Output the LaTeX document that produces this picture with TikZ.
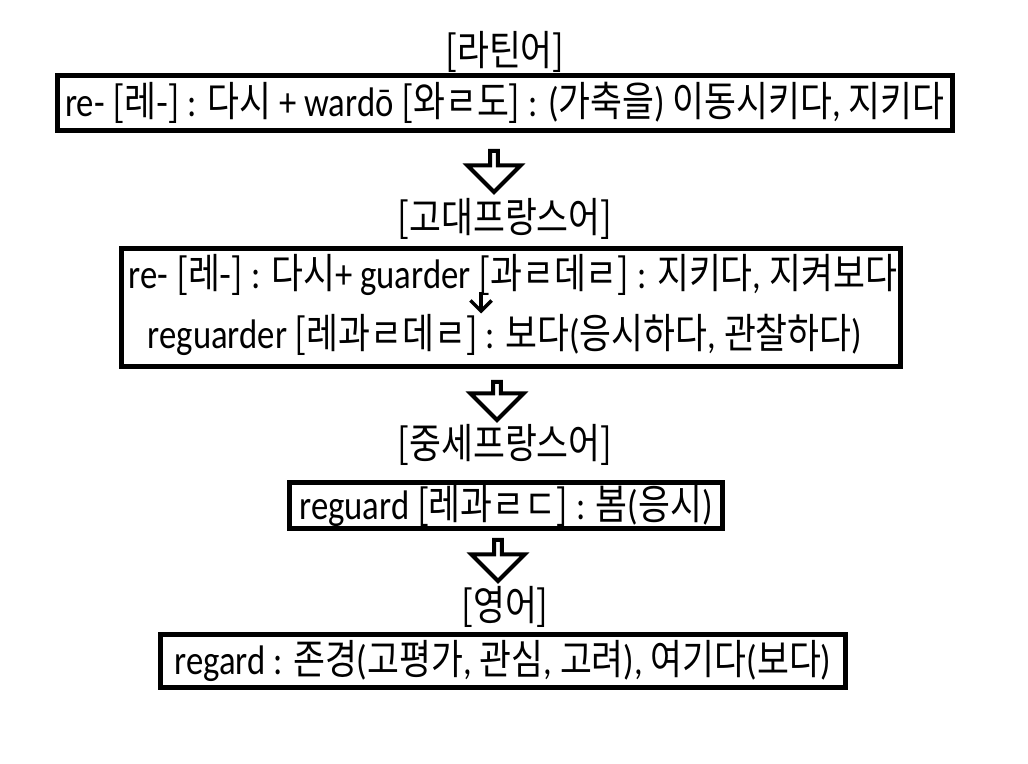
\documentclass[tikz,border=0pt]{standalone}
\usepackage{fontspec}
\setmainfont[FakeStretch=0.84]{Carlito}
\newfontfamily\krfont[FakeStretch=0.84]{Noto Sans CJK KR}
\usetikzlibrary{shapes.arrows,arrows.meta}
\newcommand{\ko}[1]{{\krfont #1}}

\begin{document}
\begin{tikzpicture}[
        every node/.style={font=\fontsize{23.5}{28}\selectfont},
        wordbox/.style={draw, line width=2.8pt, inner sep=0pt},
        langtitle/.style={inner sep=0pt},
        downarrow/.style={single arrow, draw, line width=2.3pt, inner sep=0pt,
            shape border rotate=270, minimum height=0.82cm, minimum width=1.06cm,
            single arrow head extend=0.24cm}
    ]
        \useasboundingbox (0,0) rectangle (20.56,-15.28);

        % latin
        \node[langtitle] (tlatin) at (10.1,-1.04) {\ko{[라틴어]}};
        \node[wordbox, minimum width=17.9cm, minimum height=1.1cm] (latin) at (10.1,-2.06)
            {re- \ko{[레-]} : \ko{다시} + wardō \ko{[와ㄹ도]} : (\ko{가축을}) \ko{이동시키다}, \ko{지키다}};
        \node[downarrow] (a1) at (9.88,-3.39) {};

        % old french
        \node[langtitle] (toldfr) at (10.1,-4.38) {\ko{[고대프랑스어]}};
        \node[wordbox, minimum width=15.58cm, minimum height=2.36cm] (oldfr) at (10.22,-6.15) {};
        \node[inner sep=0pt] (oldfra) at (10.26,-5.5)
            {re- \ko{[레-]} : \ko{다시}+ guarder \ko{[과ㄹ데ㄹ]} : \ko{지키다}, \ko{지켜보다}};
        \node[inner sep=0pt] (oldfrb) at (10.1,-6.7)
            {reguarder \ko{[레과ㄹ데ㄹ]} : \ko{보다}(\ko{응시하다}, \ko{관찰하다})};
        \coordinate (gtop) at (9.62,-5.84);
        \coordinate (gbot) at (9.62,-6.27);
        \draw[line width=2pt, -{Straight Barb[length=6pt,width=12pt]}] (gtop) -- (gbot);
        \node[downarrow, minimum height=0.76cm] (a2) at (9.94,-7.98) {};

        % middle french
        \node[langtitle] (tmidfr) at (10.1,-8.9) {\ko{[중세프랑스어]}};
        \node[wordbox, minimum width=8.66cm, minimum height=0.92cm] (midfr) at (10.12,-10.11)
            {reguard \ko{[레과ㄹㄷ]} : \ko{봄}(\ko{응시})};
        \node[downarrow] (a3) at (9.96,-11.17) {};

        % english
        \node[langtitle] (teng) at (10.1,-12.14) {\ko{[영어]}};
        \node[wordbox, minimum width=13.7cm, minimum height=1.06cm] (eng) at (10.06,-13.22)
            {regard : \ko{존경}(\ko{고평가}, \ko{관심}, \ko{고려}), \ko{여기다}(\ko{보다})};
\end{tikzpicture}
\end{document}
